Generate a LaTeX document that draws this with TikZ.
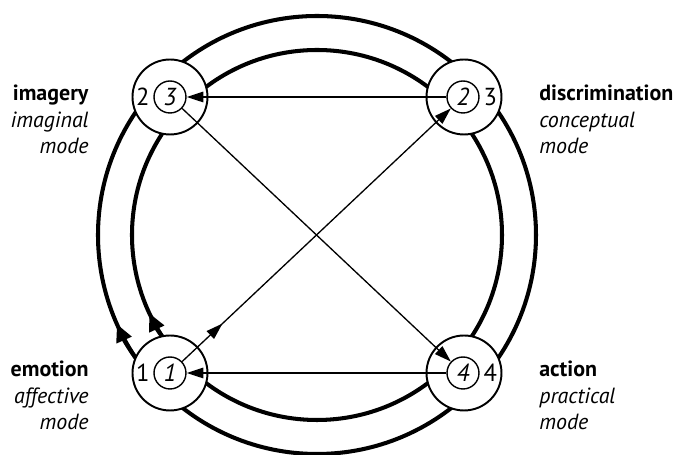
\documentclass[tikz,border=0pt]{standalone}
\usepackage{fontspec}
\setmainfont{PT Sans}
\usetikzlibrary{arrows.meta, decorations.markings}

\begin{document}
\begin{tikzpicture}[x=0.02cm, y=0.02cm,
    ring/.style={line width=2.3pt},
    ringarr/.style={line width=2.3pt,
                    -{Triangle[length=10pt,width=9pt]}},
    mode/.style={circle, draw, line width=1.1pt, fill=white,
                 minimum size=1.5cm},
    modein/.style={circle, draw, line width=0.8pt, fill=white,
                   minimum size=0.64cm, inner sep=0pt,
                   font=\fontsize{14}{16}\selectfont\itshape},
    num/.style={font=\fontsize{14}{16}\selectfont\upshape,
                inner sep=2pt},
    arr/.style={line width=0.75pt,
                -{Triangle[length=9.5pt,width=6pt]}},
    lbl/.style={font=\fontsize{12.5}{15.3}\selectfont, inner sep=0pt}
]
    \useasboundingbox (-317,-220) rectangle (364,235);

    % the two rings of the cycle
    \draw[ring] (0,0) circle[radius=219];
    \draw[ring] (0,0) circle[radius=185];
    \draw[ringarr] (220:219) arc[start angle=220, end angle=204, radius=219];
    \draw[ringarr] (220:185) arc[start angle=220, end angle=205, radius=185];

    % modes
    \node[mode] (emo) at (-147,-138) {};
    \node[mode] (imo) at (-147, 138) {};
    \node[mode] (dio) at ( 147, 138) {};
    \node[mode] (aco) at ( 147,-138) {};
    \node[modein, label={[num]left:1}]  (em) at (-147,-138) {1};
    \node[modein, label={[num]left:2}]  (im) at (-147, 138) {3};
    \node[modein, label={[num]right:3}] (di) at ( 146, 138) {2};
    \node[modein, label={[num]right:4}] (ac) at ( 146,-138) {4};

    % labels (base = last line)
    \node[lbl, anchor=base east, align=right] (imlbl) at (-228, 81)
        {\textbf{imagery}\\\textit{imaginal}\\\textit{mode}};
    \node[lbl, anchor=base east, align=right] (emlbl) at (-228,-195)
        {\textbf{emotion}\\\textit{affective}\\\textit{mode}};
    \node[lbl, anchor=base west, align=left] (dilbl) at (222, 81)
        {\textbf{discrimination}\\\textit{conceptual}\\\textit{mode}};
    \node[lbl, anchor=base west, align=left] (aclbl) at (222,-195)
        {\textbf{action}\\\textit{practical}\\\textit{mode}};

    % transitions
    \draw[arr] (di) -- (im);
    \draw[arr] (im) -- (ac);
    \draw[arr] (ac) -- (em);
    \draw[arr, postaction={decorate}, decoration={markings,
          mark=at position 0.15 with {\arrow{Triangle[length=9.5pt,width=6pt]}}}]
        (em) -- (di);
\end{tikzpicture}
\end{document}
